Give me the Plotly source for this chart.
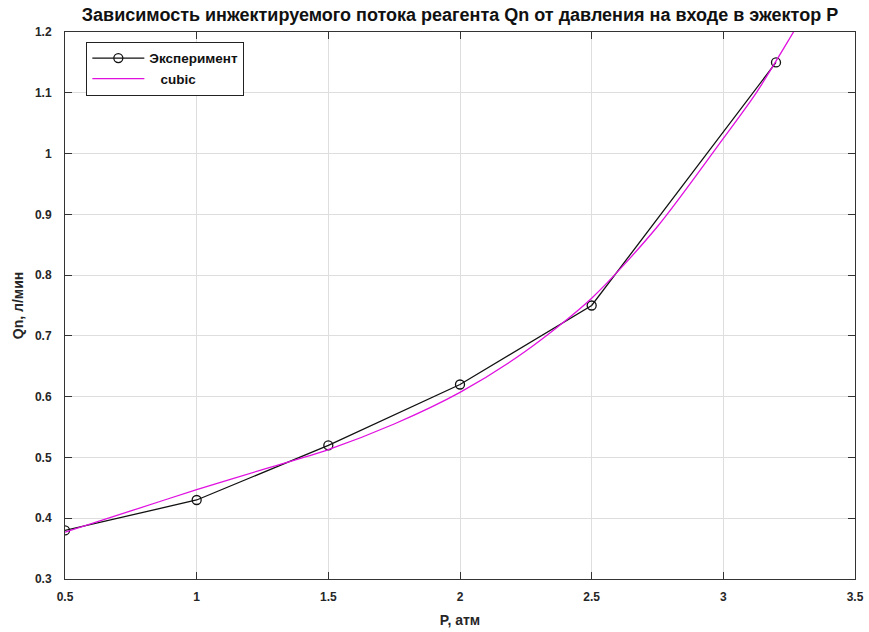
import plotly.graph_objects as go

# Experimental data
p_exp = [0.5, 1.0, 1.5, 2.0, 2.5, 3.2]
q_exp = [0.38, 0.43, 0.52, 0.62, 0.75, 1.15]

# Cubic fit curve
p_fit = [0.5, 0.75, 1.0, 1.25, 1.5, 1.75, 2.0, 2.25, 2.5, 2.75, 3.0, 3.125, 3.25, 3.32]
q_fit = [0.377, 0.412, 0.447, 0.480, 0.513, 0.555, 0.607, 0.675, 0.762, 0.880, 1.025, 1.100, 1.188, 1.24]

x_ticks = [0.5, 1, 1.5, 2, 2.5, 3, 3.5]
x_tick_text = ["0.5", "1", "1.5", "2", "2.5", "3", "3.5"]
y_ticks = [0.3, 0.4, 0.5, 0.6, 0.7, 0.8, 0.9, 1.0, 1.1, 1.2]
y_tick_text = ["0.3", "0.4", "0.5", "0.6", "0.7", "0.8", "0.9", "1", "1.1", "1.2"]

FONT = "Liberation Sans"

fig = go.Figure()
fig.add_trace(go.Scatter(
    x=p_exp, y=q_exp, mode="lines+markers", name="Эксперимент",
    line=dict(color="#111111", width=1.3),
    marker=dict(symbol="circle-open", size=9, color="#111111", line=dict(width=1.3)),
))
fig.add_trace(go.Scatter(
    x=p_fit, y=q_fit, mode="lines", name="\u00a0\u00a0\u00a0cubic",
    line=dict(color="#e010e0", width=1.3, shape="spline", smoothing=0.8),
))

axis_common = dict(
    showline=True, linecolor="#333333", linewidth=1, mirror="ticks",
    ticks="inside", ticklen=7, tickcolor="#333333", tickwidth=1,
    showgrid=True, gridcolor="#dedede", gridwidth=1, zeroline=False,
    automargin=False,
    tickfont=dict(family=FONT, size=12, color="#262626", weight="bold"),
)

fig.update_layout(
    width=869, height=632,
    paper_bgcolor="white", plot_bgcolor="white",
    margin=dict(l=65, r=14, t=32, b=53),
    title=dict(
        text="<b>Зависимость инжектируемого потока реагента Qn от давления на входе в эжектор P</b>",
        x=0.5, xanchor="center", xref="paper", y=0.977, yanchor="middle",
        font=dict(family=FONT, size=18, color="#111111"),
    ),
    xaxis=dict(range=[0.5, 3.5], tickvals=x_ticks, ticktext=x_tick_text, ticklabelstandoff=7,
               title=dict(text="<b>P, атм</b>", font=dict(family=FONT, size=14, color="#262626"), standoff=11),
               **axis_common),
    yaxis=dict(range=[0.3, 1.2], tickvals=y_ticks, ticktext=y_tick_text, ticklabelstandoff=10,
               title=dict(text="<b>Qn, л/мин</b>", font=dict(family=FONT, size=14, color="#262626"), standoff=8),
               **axis_common),
    legend=dict(
        x=0.027, y=0.982, xanchor="left", yanchor="top",
        bgcolor="white", bordercolor="#222222", borderwidth=1,
        font=dict(family=FONT, size=13.5, color="#111111", weight="bold"),
        tracegroupgap=0, itemwidth=52,
    ),
    showlegend=True,
)

fig.write_html("out.html")
